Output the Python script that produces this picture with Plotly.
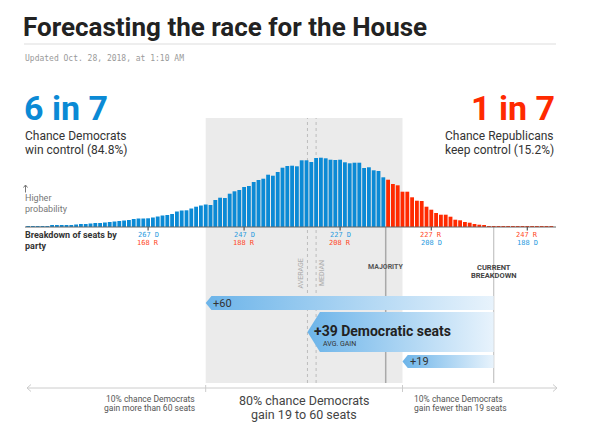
import plotly.graph_objects as go

W, H = 590, 427

# ---------------- data ----------------
seats_dem = list(range(292, 182, -1))  # Democratic seat totals, 292 ... 183
prob = [  # relative probability of each seat total (bar height)
    0.8, 0.8, 1.0, 1.0, 1.0, 1.2, 1.5, 1.5, 2.0, 2.0,
    2.5, 3.0, 3.0, 3.5, 4.0, 4.0, 4.5, 5.0, 5.5, 6.0,
    6.5, 7.0, 8.0, 8.5, 8.5, 8.7, 9.5, 10.5, 11.5, 12.0,
    13.0, 15.5, 16.5, 16.7, 18.5, 20.3, 21.5, 22.5, 22.0, 27.0,
    29.3, 29.0, 33.3, 35.7, 37.0, 40.0, 41.0, 45.0, 47.0, 48.3,
    52.3, 51.3, 55.0, 59.3, 61.0, 61.3, 60.7, 66.7, 66.7, 65.0,
    69.0, 69.3, 68.7, 67.3, 67.0, 67.3, 64.7, 63.7, 64.3, 64.3,
    59.0, 59.7, 56.7, 56.0, 49.7,
    47.3, 43.0, 41.7, 35.3, 35.3, 29.7, 26.3, 26.0, 20.3, 17.3,
    14.0, 12.3, 12.3, 10.3, 7.3, 6.7, 5.0, 4.3, 3.0, 2.3,
    1.3, 1.0, 0.7, 0.6, 0.5, 0.4, 0.3, 0.3, 0.3, 0.2,
    0.2, 0.2, 0.1, 0.1, 0.1,
]
total_seats = 435
majority = 218
current_dem = 195
gain_high = 60
gain_avg = 38.8
gain_low = 19
median_dem = 232
tick_dem = [267, 247, 227, 208, 188]
dem_odds, dem_pct = "6 in 7", 84.8
rep_odds, rep_pct = "1 in 7", 15.2
title = "Forecasting the race for the House"
updated = "Updated Oct. 28, 2018, at 1:10 AM"

# ---------------- style ----------------
BLUE = "#0b8ad5"
RED = "#ff2a00"
BLUE_T = "#2a9be0"
RED_T = "#ff4a28"
SHADE = "#ebebeb"
FONT = "Roboto"
MONO = "DejaVu Sans Mono"


def px(x):
    return x / W


def py(y):
    return 1 - y / H


fig = go.Figure()

fig.add_trace(go.Bar(
    x=seats_dem, y=prob,
    marker=dict(color=[BLUE if s >= majority else RED for s in seats_dem], line=dict(width=0)),
    hoverinfo="skip", showlegend=False,
))


def arrow(gain, yc, half, notch):
    tip = current_dem + gain
    xs = [tip, tip - notch, current_dem, current_dem, tip - notch, tip]
    ys = [yc, yc - half, yc - half, yc + half, yc + half, yc]
    fig.add_trace(go.Scatter(
        x=xs, y=ys, yaxis="y2", mode="lines", fill="toself",
        line=dict(width=0, color="rgba(0,0,0,0)"),
        fillgradient=dict(type="horizontal", start=tip, stop=current_dem,
                          colorscale=[[0, "#6cb4e9"], [1, "#e8f3fc"]]),
        hoverinfo="skip", showlegend=False,
    ))
    return tip


tip_hi = arrow(gain_high, 303, 7, 1.2)
tip_avg = arrow(gain_avg, 332, 20, 2.6)
tip_lo = arrow(gain_low, 361.5, 6.5, 1.1)

shapes = []
# shaded 80% band
shapes.append(dict(type="rect", xref="x", yref="paper", x0=current_dem + gain_high, x1=current_dem + gain_low,
                   y0=py(383), y1=py(118), fillcolor=SHADE, line=dict(width=0), layer="below"))
# average / median dotted lines
for xv in (current_dem + gain_avg, median_dem):
    shapes.append(dict(type="line", xref="x", yref="paper", x0=xv, x1=xv, y0=py(383), y1=py(118),
                       line=dict(color="#bdbdbd", width=1, dash="dot"), layer="below"))
# majority and current lines
shapes.append(dict(type="line", xref="x", yref="paper", x0=majority - 0.5, x1=majority - 0.5,
                   y0=py(227), y1=py(383), line=dict(color="#a9a9a9", width=1.5), layer="below"))
shapes.append(dict(type="line", xref="x", yref="paper", x0=current_dem, x1=current_dem,
                   y0=py(227), y1=py(383), line=dict(color="#c4c4c4", width=1.2), layer="below"))
# histogram baseline
shapes.append(dict(type="line", xref="paper", yref="paper", x0=px(25), x1=px(556), y0=py(227), y1=py(227),
                   line=dict(color="#666666", width=1.2)))
for t in tick_dem:
    shapes.append(dict(type="line", xref="x", yref="paper", x0=t, x1=t, y0=py(227), y1=py(230.5),
                       line=dict(color="#555555", width=1.2)))
# title rule
shapes.append(dict(type="line", xref="paper", yref="paper", x0=px(24), x1=px(556), y0=py(44), y1=py(44),
                   line=dict(color="#dddddd", width=1)))
# "higher probability" up arrow
shapes.append(dict(type="line", xref="paper", yref="paper", x0=px(25.5), x1=px(25.5), y0=py(192.5), y1=py(185),
                   line=dict(color="#777777", width=1)))
shapes.append(dict(type="path", xref="paper", yref="paper",
                   path=f"M {px(23.5)},{py(187.5)} L {px(25.5)},{py(185)} L {px(27.5)},{py(187.5)}",
                   line=dict(color="#777777", width=1)))
# bottom double arrow axis
AX = "#cccccc"
shapes.append(dict(type="line", xref="paper", yref="paper", x0=px(27), x1=px(557), y0=py(388), y1=py(388),
                   line=dict(color=AX, width=1)))
shapes.append(dict(type="path", xref="paper", yref="paper",
                   path=f"M {px(31)},{py(384.5)} L {px(27)},{py(388)} L {px(31)},{py(391.5)}",
                   line=dict(color=AX, width=1)))
shapes.append(dict(type="path", xref="paper", yref="paper",
                   path=f"M {px(553)},{py(384.5)} L {px(557)},{py(388)} L {px(553)},{py(391.5)}",
                   line=dict(color=AX, width=1)))
for xv in (current_dem + gain_high, current_dem + gain_low):
    shapes.append(dict(type="line", xref="x", yref="paper", x0=xv, x1=xv, y0=py(385), y1=py(392),
                       line=dict(color=AX, width=1)))

ann = []


def txt(text, x, y, size, color, xanchor="left", xref="paper", family=FONT, xshift=0, angle=0):
    ann.append(dict(text=text, x=px(x) if xref == "paper" else x, y=py(y), xref=xref, yref="paper",
                    xanchor=xanchor, yanchor="middle", showarrow=False, xshift=xshift, textangle=angle,
                    font=dict(family=family, size=size, color=color)))


txt(f"<b>{title}</b>", 21, 27, 26, "#222222")
txt(updated, 23, 58, 8, "#9a9a9a", family=MONO)

txt(f"<b>{dem_odds}</b>", 22, 108, 34, BLUE)
txt("Chance Democrats", 23, 136, 12, "#333333")
txt(f"win control ({dem_pct}%)", 23, 149.5, 12, "#333333")
txt(f"<b>{rep_odds}</b>", 557, 108, 34, RED, xanchor="right")
txt("Chance Republicans", 556, 136, 12, "#333333", xanchor="right")
txt(f"keep control ({rep_pct}%)", 556, 149.5, 12, "#333333", xanchor="right")

txt("Higher", 23, 198.5, 9, "#777777")
txt("probability", 23, 208.5, 9, "#777777")
txt("<b>Breakdown of seats by</b>", 23, 235.5, 9, "#333333")
txt("<b>party</b>", 23, 245.5, 9, "#333333")

for t in tick_dem:
    d_lab = f"{t} D"
    r_lab = f"{total_seats - t} R"
    if t >= majority:
        top, topc, bot, botc = d_lab, BLUE_T, r_lab, RED_T
    else:
        top, topc, bot, botc = r_lab, RED_T, d_lab, BLUE_T
    txt(top, t, 235.5, 7, topc, xanchor="center", xref="x", family=MONO)
    txt(bot, t, 243, 7, botc, xanchor="center", xref="x", family=MONO)

txt("AVERAGE", current_dem + gain_avg, 273, 7, "#aaaaaa", xanchor="center", xref="x", xshift=-6, angle=-90)
txt("MEDIAN", median_dem, 273, 7, "#aaaaaa", xanchor="center", xref="x", xshift=6, angle=-90)
txt("<b>MAJORITY</b>", majority - 0.5, 267, 7, "#555555", xanchor="center", xref="x")
txt("<b>CURRENT</b>", current_dem, 267, 7.5, "#444444", xanchor="center", xref="x")
txt("<b>BREAKDOWN</b>", current_dem, 275, 7.5, "#444444", xanchor="center", xref="x")

txt(f"+{gain_high}", tip_hi, 303, 11, "#333333", xref="x", xshift=5)
txt(f"<b>+{round(gain_avg)} Democratic seats</b>", tip_avg, 331, 14, "#222222", xref="x", xshift=5)
txt("AVG. GAIN", tip_avg, 344, 7, "#333333", xref="x", xshift=14)
txt(f"+{gain_low}", tip_lo, 361.5, 11, "#333333", xref="x", xshift=5)

txt("10% chance Democrats", current_dem + gain_high, 398.5, 8.5, "#555555", xanchor="right", xref="x", xshift=-9)
txt(f"gain more than {gain_high} seats", current_dem + gain_high, 408, 8.5, "#555555", xanchor="right", xref="x", xshift=-9)
txt("80% chance Democrats", current_dem + (gain_high + gain_low) / 2, 400, 12.5, "#444444", xanchor="center", xref="x")
txt(f"gain {gain_low} to {gain_high} seats", current_dem + (gain_high + gain_low) / 2, 414.5, 12.5, "#444444", xanchor="center", xref="x")
txt("10% chance Democrats", current_dem + gain_low, 398.5, 8.5, "#555555", xanchor="left", xref="x", xshift=9)
txt(f"gain fewer than {gain_low} seats", current_dem + gain_low, 408, 8.5, "#555555", xanchor="left", xref="x", xshift=9)

x_left = 217.5 + 385.7 / 4.8
x_right = 217.5 - (W - 385.7) / 4.8

fig.update_layout(
    width=W, height=H,
    margin=dict(l=0, r=0, t=0, b=0),
    paper_bgcolor="white", plot_bgcolor="rgba(0,0,0,0)",
    bargap=0.2,
    showlegend=False,
    xaxis=dict(range=[x_left, x_right], visible=False, fixedrange=True),
    yaxis=dict(domain=[py(227), py(118)], range=[0, 109], visible=False, fixedrange=True),
    yaxis2=dict(domain=[0, 1], range=[H, 0], anchor="x", visible=False, fixedrange=True),
    shapes=shapes,
    annotations=ann,
)

fig.write_html("out.html", config={"displayModeBar": False},
               post_script="document.body.style.margin='0';document.body.style.overflow='hidden';")
